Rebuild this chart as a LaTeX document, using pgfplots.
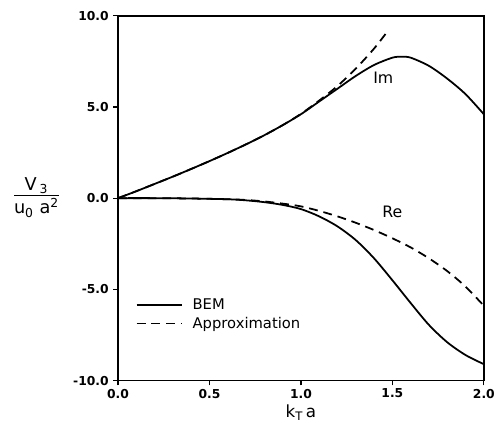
\documentclass[border=0pt]{standalone}
\usepackage{fontspec}
\setmainfont{DejaVu Sans}
\usepackage{pgfplots}
\pgfplotsset{compat=1.18}

\begin{document}
\begin{tikzpicture}
  \begin{axis}[
      name=ax,
      scale only axis,
      width=372pt, height=371pt,
      xmin=0, xmax=2, ymin=-10, ymax=10,
      xtick={0,0.5,1,1.5,2},
      ytick={-10,-5,0,5,10},
      tick pos=left,
      tick align=outside,
      major tick length=5pt,
      axis line style={line width=1.6pt},
      tick style={line width=1.3pt, black},
      every tick label/.append style={font=\fontsize{12.5}{13}\selectfont\bfseries},
      yticklabel style={xshift=-1pt},
      /pgf/number format/.cd, fixed, fixed zerofill, precision=1, assume math mode=true,
      /pgfplots/.cd,
      xlabel={k\textsubscript{T}\,a},
      xlabel style={font=\fontsize{17}{18}\selectfont, yshift=0pt},
      clip=false,
      legend style={draw=none, fill=none, at={(0.04,0.235)}, anchor=north west,
        font=\fontsize{15}{16}\selectfont, row sep=2pt},
      legend cell align=left,
      legend image code/.code={\draw[#1, line width=1.8pt] (0pt,0pt) -- (46pt,0pt); \path (54pt,0pt);},
    ]
    % BEM, imaginary part
    \addplot[black, line width=1.8pt, smooth] coordinates {
      (0,0) (0.1,0.38) (0.2,0.78) (0.3,1.18) (0.4,1.6) (0.5,2.03) (0.6,2.48)
      (0.7,2.95) (0.8,3.45) (0.9,4.0) (1.0,4.6) (1.1,5.3) (1.2,6.0) (1.3,6.7)
      (1.4,7.3) (1.5,7.7) (1.55,7.75) (1.6,7.7) (1.7,7.25) (1.8,6.55)
      (1.9,5.7) (2.0,4.6)
    };
    \addlegendentry{BEM}
    % Approximation, imaginary part
    \addplot[black, line width=1.8pt, dash pattern=on 9pt off 6pt, smooth] coordinates {
      (0,0) (0.1,0.38) (0.2,0.78) (0.3,1.18) (0.4,1.6) (0.5,2.03) (0.6,2.48)
      (0.7,2.95) (0.8,3.45) (0.9,4.0) (1.0,4.62) (1.1,5.35) (1.2,6.15)
      (1.3,7.1) (1.4,8.2) (1.47,9.1)
    };
    \addlegendentry{Approximation}
    % BEM, real part
    \addplot[black, line width=1.8pt, smooth, forget plot] coordinates {
      (0,0) (0.2,0) (0.4,-0.02) (0.6,-0.06) (0.7,-0.12) (0.8,-0.22) (0.9,-0.37)
      (1.0,-0.6) (1.1,-1.0) (1.2,-1.55) (1.3,-2.3) (1.4,-3.3) (1.5,-4.5)
      (1.6,-5.75) (1.7,-6.95) (1.8,-7.9) (1.9,-8.6) (2.0,-9.1)
    };
    % Approximation, real part
    \addplot[black, line width=1.8pt, dash pattern=on 9pt off 6pt, smooth, forget plot] coordinates {
      (0,0) (0.2,0) (0.4,-0.02) (0.6,-0.06) (0.7,-0.1) (0.8,-0.18) (0.9,-0.3)
      (1.0,-0.45) (1.1,-0.7) (1.2,-1.0) (1.3,-1.35) (1.4,-1.75) (1.5,-2.2)
      (1.6,-2.7) (1.7,-3.3) (1.8,-4.0) (1.9,-4.85) (2.0,-5.9)
    };
    \node[font=\fontsize{16}{17}\selectfont] at (axis cs:1.45,6.6) {Im};
    \node[font=\fontsize{16}{17}\selectfont] at (axis cs:1.5,-0.75) {Re};
  \end{axis}
  \node[font=\fontsize{18}{19}\selectfont, inner sep=0pt] at ([xshift=-83pt]ax.west)
    {\begin{tabular}{@{}c@{}}V\,\textsubscript{3}\\[-1pt]\hline\rule{0pt}{19pt}u\textsubscript{0}\,\,a\textsuperscript{2}\end{tabular}};
  \path ([xshift=-120pt,yshift=-42pt]ax.south west) rectangle ([xshift=6pt,yshift=16pt]ax.north east);
\end{tikzpicture}
\end{document}
